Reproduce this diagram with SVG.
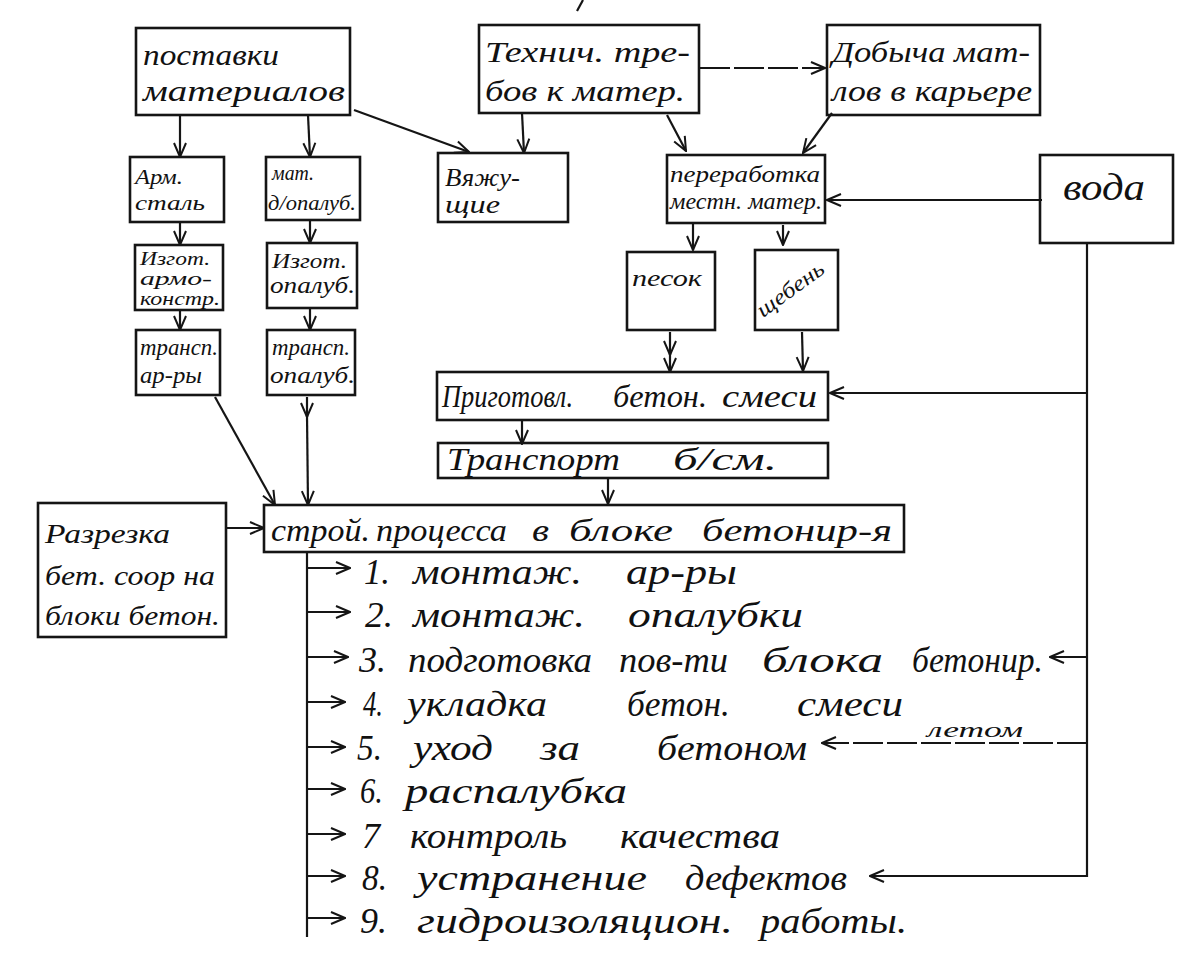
<svg xmlns="http://www.w3.org/2000/svg" width="1199" height="958" viewBox="0 0 1199 958">
<defs>
<style>
.b{fill:none;stroke:#151515;stroke-width:2.6}
.c{fill:none;stroke:#151515;stroke-width:2.2}
.d{fill:none;stroke:#151515;stroke-width:2;stroke-dasharray:30 4}
.t{font-family:"Liberation Serif","DejaVu Serif",serif;font-style:italic;fill:#111}
.l{font-family:"Liberation Serif","DejaVu Serif",serif;font-style:italic;fill:#111;font-size:35px}
</style>
<marker id="ah" viewBox="0 0 16 16" refX="15" refY="8" markerWidth="16" markerHeight="16" markerUnits="userSpaceOnUse" orient="auto">
<path d="M1,2 L15,8 L1,14" fill="none" stroke="#151515" stroke-width="2"/>
</marker>
</defs>
<rect width="1199" height="958" fill="#ffffff"/>

<g id="connectors">
<path class="c" d="M180,115 L180,157" marker-end="url(#ah)"/>
<path class="c" d="M308,115 L310,157" marker-end="url(#ah)"/>
<path class="c" d="M354,110 L469,152" marker-end="url(#ah)"/>
<path class="c" d="M522,113 L524,153" marker-end="url(#ah)"/>
<path class="d" d="M700,68 L825,68" marker-end="url(#ah)"/>
<path class="c" d="M667,115 L686,151" marker-end="url(#ah)"/>
<path class="c" d="M832,113 L803,153" marker-end="url(#ah)"/>
<path class="c" d="M1042,200 L827,200" marker-end="url(#ah)"/>
<path class="c" d="M180,222 L180,245" marker-end="url(#ah)"/>
<path class="c" d="M310,220 L310,243" marker-end="url(#ah)"/>
<path class="c" d="M180,310 L180,330" marker-end="url(#ah)"/>
<path class="c" d="M310,308 L310,330" marker-end="url(#ah)"/>
<path class="c" d="M693,223 L693,250" marker-end="url(#ah)"/>
<path class="c" d="M783,225 L783,245" marker-end="url(#ah)"/>
<path class="c" d="M670,332 L670,355" marker-end="url(#ah)"/>
<path class="c" d="M670,350 L670,372" marker-end="url(#ah)"/>
<path class="c" d="M802,332 L803,371" marker-end="url(#ah)"/>
<path class="c" d="M1087,243 L1087,877"/>
<path class="c" d="M1087,393 L830,393" marker-end="url(#ah)"/>
<path class="c" d="M522,420 L522,444" marker-end="url(#ah)"/>
<path class="c" d="M608,478 L608,504" marker-end="url(#ah)"/>
<path class="c" d="M215,397 L275,505" marker-end="url(#ah)"/>
<path class="c" d="M307,397 L307,417" marker-end="url(#ah)"/>
<path class="c" d="M307,415 L308,505" marker-end="url(#ah)"/>
<path class="c" d="M226,528 L264,528" marker-end="url(#ah)"/>
<path class="c" d="M307,552 L307,937"/>
<path class="c" d="M307,568 L350,568" marker-end="url(#ah)"/>
<path class="c" d="M307,612 L350,612" marker-end="url(#ah)"/>
<path class="c" d="M307,657 L348,657" marker-end="url(#ah)"/>
<path class="c" d="M307,702 L345,702" marker-end="url(#ah)"/>
<path class="c" d="M307,747 L345,747" marker-end="url(#ah)"/>
<path class="c" d="M307,789 L345,789" marker-end="url(#ah)"/>
<path class="c" d="M307,834 L345,834" marker-end="url(#ah)"/>
<path class="c" d="M307,876 L345,876" marker-end="url(#ah)"/>
<path class="c" d="M307,918 L345,918" marker-end="url(#ah)"/>
<path class="c" d="M1087,657 L1050,657" marker-end="url(#ah)"/>
<path class="d" d="M1087,743 L822,743" marker-end="url(#ah)"/>
<path class="c" d="M1087,876 L870,876" marker-end="url(#ah)"/>
<path class="c" d="M583,0 L577,11"/>
</g>

<g id="postavki">
<rect class="b" x="136" y="28" width="214" height="87"/>
<text class="t" x="143" y="65" font-size="30" textLength="136" lengthAdjust="spacingAndGlyphs">поставки</text>
<text class="t" x="143" y="101" font-size="30" textLength="202" lengthAdjust="spacingAndGlyphs">материалов</text>
</g>
<g id="tehnich">
<rect class="b" x="479" y="25" width="220" height="88"/>
<text class="t" x="485" y="62" font-size="30" textLength="205" lengthAdjust="spacingAndGlyphs">Технич. тре-</text>
<text class="t" x="485" y="101" font-size="30" textLength="200" lengthAdjust="spacingAndGlyphs">бов к матер.</text>
</g>
<g id="dobycha">
<rect class="b" x="827" y="25" width="213" height="90"/>
<text class="t" x="832" y="62" font-size="30" textLength="198" lengthAdjust="spacingAndGlyphs">Добыча мат-</text>
<text class="t" x="832" y="101" font-size="30" textLength="200" lengthAdjust="spacingAndGlyphs">лов в карьере</text>
</g>
<g id="arm">
<rect class="b" x="130" y="157" width="94" height="65"/>
<text class="t" x="135" y="184" font-size="22" textLength="48" lengthAdjust="spacingAndGlyphs">Арм.</text>
<text class="t" x="135" y="210" font-size="22" textLength="70" lengthAdjust="spacingAndGlyphs">сталь</text>
</g>
<g id="mat">
<rect class="b" x="266" y="157" width="94" height="63"/>
<text class="t" x="272" y="180" font-size="22" textLength="42" lengthAdjust="spacingAndGlyphs">мат.</text>
<text class="t" x="268" y="210" font-size="22" textLength="88" lengthAdjust="spacingAndGlyphs">д/опалуб.</text>
</g>
<g id="vyazh">
<rect class="b" x="438" y="153" width="130" height="69"/>
<text class="t" x="445" y="186" font-size="26" textLength="75" lengthAdjust="spacingAndGlyphs">Вяжу-</text>
<text class="t" x="445" y="213" font-size="26" textLength="55" lengthAdjust="spacingAndGlyphs">щие</text>
</g>
<g id="pererab">
<rect class="b" x="667" y="155" width="158" height="68"/>
<text class="t" x="670" y="182" font-size="24" textLength="150" lengthAdjust="spacingAndGlyphs">переработка</text>
<text class="t" x="670" y="209" font-size="24" textLength="152" lengthAdjust="spacingAndGlyphs">местн. матер.</text>
</g>
<g id="voda">
<rect class="b" x="1040" y="155" width="133" height="88"/>
<text class="t" x="1063" y="200" font-size="38" textLength="82" lengthAdjust="spacingAndGlyphs">вода</text>
</g>
<g id="izgot-arm">
<rect class="b" x="135" y="245" width="88" height="65"/>
<text class="t" x="140" y="265" font-size="18" textLength="70" lengthAdjust="spacingAndGlyphs">Изгот.</text>
<text class="t" x="140" y="285" font-size="18" textLength="72" lengthAdjust="spacingAndGlyphs">армо-</text>
<text class="t" x="140" y="305" font-size="18" textLength="80" lengthAdjust="spacingAndGlyphs">констр.</text>
</g>
<g id="izgot-opal">
<rect class="b" x="267" y="243" width="90" height="65"/>
<text class="t" x="272" y="268" font-size="22" textLength="75" lengthAdjust="spacingAndGlyphs">Изгот.</text>
<text class="t" x="270" y="293" font-size="24" textLength="85" lengthAdjust="spacingAndGlyphs">опалуб.</text>
</g>
<g id="trans-arm">
<rect class="b" x="136" y="330" width="84" height="65"/>
<text class="t" x="140" y="355" font-size="24" textLength="78" lengthAdjust="spacingAndGlyphs">трансп.</text>
<text class="t" x="140" y="383" font-size="24" textLength="62" lengthAdjust="spacingAndGlyphs">ар-ры</text>
</g>
<g id="trans-opal">
<rect class="b" x="267" y="330" width="88" height="65"/>
<text class="t" x="272" y="355" font-size="24" textLength="78" lengthAdjust="spacingAndGlyphs">трансп.</text>
<text class="t" x="270" y="383" font-size="24" textLength="85" lengthAdjust="spacingAndGlyphs">опалуб.</text>
</g>
<g id="pesok">
<rect class="b" x="627" y="252" width="88" height="78"/>
<text class="t" x="632" y="286" font-size="24" textLength="70" lengthAdjust="spacingAndGlyphs">песок</text>
</g>
<g id="scheben">
<rect class="b" x="755" y="250" width="83" height="80"/>
<text class="t" transform="translate(763,318) rotate(-36)" font-size="22" textLength="78" lengthAdjust="spacingAndGlyphs">щебень</text>
</g>
<g id="prigot">
<rect class="b" x="437" y="372" width="391" height="48"/>
<text class="t" x="442" y="407" font-size="32" textLength="131" lengthAdjust="spacingAndGlyphs">Приготовл.</text>
<text class="t" x="613" y="407" font-size="32" textLength="94" lengthAdjust="spacingAndGlyphs">бетон.</text>
<text class="t" x="722" y="407" font-size="32" textLength="95" lengthAdjust="spacingAndGlyphs">смеси</text>
</g>
<g id="transport">
<rect class="b" x="438" y="443" width="390" height="35"/>
<text class="t" x="447" y="470" font-size="32" textLength="173" lengthAdjust="spacingAndGlyphs">Транспорт</text>
<text class="t" x="673" y="470" font-size="32" textLength="104" lengthAdjust="spacingAndGlyphs">б/см.</text>
</g>
<g id="stroy">
<rect class="b" x="264" y="505" width="640" height="47"/>
<text class="t" x="271" y="541" font-size="32" textLength="99" lengthAdjust="spacingAndGlyphs">строй.</text>
<text class="t" x="376" y="541" font-size="32" textLength="131" lengthAdjust="spacingAndGlyphs">процесса</text>
<text class="t" x="532" y="541" font-size="32" textLength="17" lengthAdjust="spacingAndGlyphs">в</text>
<text class="t" x="569" y="541" font-size="32" textLength="104" lengthAdjust="spacingAndGlyphs">блоке</text>
<text class="t" x="702" y="541" font-size="32" textLength="190" lengthAdjust="spacingAndGlyphs">бетонир-я</text>
</g>
<g id="razrezka">
<rect class="b" x="38" y="503" width="188" height="134"/>
<text class="t" x="45" y="543" font-size="28" textLength="125" lengthAdjust="spacingAndGlyphs">Разрезка</text>
<text class="t" x="45" y="585" font-size="28" textLength="170" lengthAdjust="spacingAndGlyphs">бет. соор на</text>
<text class="t" x="45" y="625" font-size="28" textLength="175" lengthAdjust="spacingAndGlyphs">блоки бетон.</text>
</g>
<g id="list">
<text class="l" x="364" y="584" textLength="26" lengthAdjust="spacingAndGlyphs">1.</text>
<text class="l" x="413" y="584" textLength="169" lengthAdjust="spacingAndGlyphs">монтаж.</text>
<text class="l" x="626" y="584" textLength="111" lengthAdjust="spacingAndGlyphs">ар-ры</text>

<text class="l" x="365" y="627" textLength="28" lengthAdjust="spacingAndGlyphs">2.</text>
<text class="l" x="413" y="627" textLength="172" lengthAdjust="spacingAndGlyphs">монтаж.</text>
<text class="l" x="628" y="627" textLength="175" lengthAdjust="spacingAndGlyphs">опалубки</text>

<text class="l" x="359" y="672" textLength="27" lengthAdjust="spacingAndGlyphs">3.</text>
<text class="l" x="408" y="672" textLength="184" lengthAdjust="spacingAndGlyphs">подготовка</text>
<text class="l" x="619" y="672" textLength="109" lengthAdjust="spacingAndGlyphs">пов-ти</text>
<text class="l" x="762" y="672" textLength="121" lengthAdjust="spacingAndGlyphs">блока</text>
<text class="l" x="912" y="672" textLength="131" lengthAdjust="spacingAndGlyphs">бетонир.</text>

<text class="l" x="363" y="716" textLength="20" lengthAdjust="spacingAndGlyphs">4.</text>
<text class="l" x="407" y="716" textLength="140" lengthAdjust="spacingAndGlyphs">укладка</text>
<text class="l" x="627" y="716" textLength="103" lengthAdjust="spacingAndGlyphs">бетон.</text>
<text class="l" x="797" y="716" textLength="106" lengthAdjust="spacingAndGlyphs">смеси</text>

<text class="l" x="357" y="760" textLength="25" lengthAdjust="spacingAndGlyphs">5.</text>
<text class="l" x="413" y="760" textLength="80" lengthAdjust="spacingAndGlyphs">уход</text>
<text class="l" x="540" y="760" textLength="40" lengthAdjust="spacingAndGlyphs">за</text>
<text class="l" x="657" y="760" textLength="150" lengthAdjust="spacingAndGlyphs">бетоном</text>

<text class="l" x="360" y="803" textLength="23" lengthAdjust="spacingAndGlyphs">6.</text>
<text class="l" x="405" y="803" textLength="222" lengthAdjust="spacingAndGlyphs">распалубка</text>

<text class="l" x="362" y="848" textLength="18" lengthAdjust="spacingAndGlyphs">7</text>
<text class="l" x="410" y="848" textLength="157" lengthAdjust="spacingAndGlyphs">контроль</text>
<text class="l" x="620" y="848" textLength="160" lengthAdjust="spacingAndGlyphs">качества</text>

<text class="l" x="362" y="890" textLength="25" lengthAdjust="spacingAndGlyphs">8.</text>
<text class="l" x="417" y="890" textLength="230" lengthAdjust="spacingAndGlyphs">устранение</text>
<text class="l" x="685" y="890" textLength="162" lengthAdjust="spacingAndGlyphs">дефектов</text>

<text class="l" x="360" y="933" textLength="27" lengthAdjust="spacingAndGlyphs">9.</text>
<text class="l" x="417" y="933" textLength="316" lengthAdjust="spacingAndGlyphs">гидроизоляцион.</text>
<text class="l" x="760" y="933" textLength="147" lengthAdjust="spacingAndGlyphs">работы.</text>
</g>
<g id="letom">
<text class="t" x="927" y="737" font-size="22" textLength="96" lengthAdjust="spacingAndGlyphs">летом</text>
</g>
</svg>
